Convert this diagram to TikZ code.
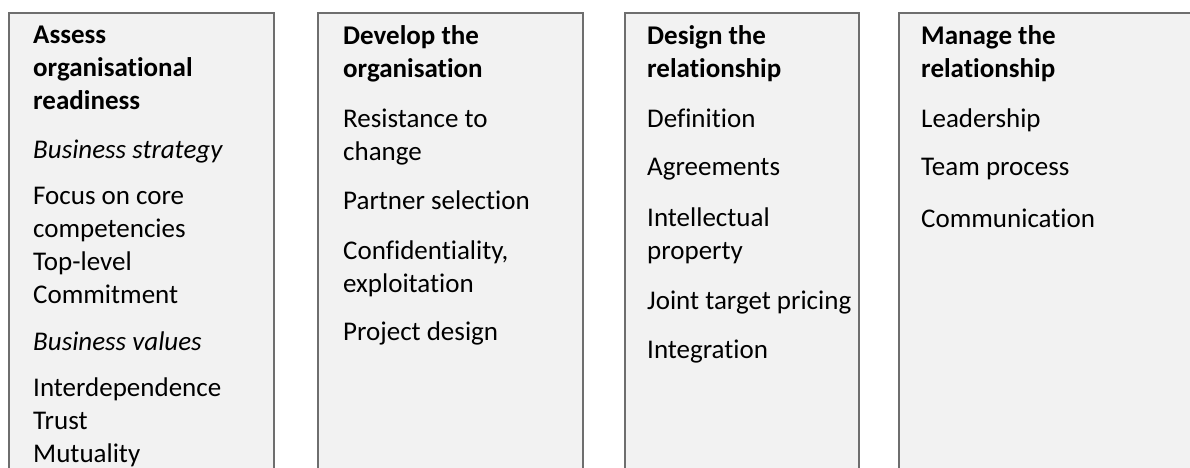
\documentclass[tikz,border=0pt]{standalone}
\usepackage{fontspec}
\setmainfont{Carlito}[Ligatures={NoCommon}]
\definecolor{boxfill}{HTML}{F2F2F2}
\definecolor{boxline}{HTML}{6E6E6E}
\tikzset{
  stage/.style={draw=boxline, line width=1.6pt, fill=boxfill},
  item/.style={anchor=base west, inner sep=0pt, align=left,
    font=\fontsize{27}{33}\selectfont},
  head/.style={item, font=\fontsize{27}{33}\selectfont\bfseries},
  topic/.style={item, font=\fontsize{27}{33}\selectfont\itshape}
}
\begin{document}
\begin{tikzpicture}[x=1pt, y=-1pt]
  \useasboundingbox (0,0) rectangle (1190,467);
  \clip (0,0) rectangle (1190,467);
  % the four columns, open at the bottom
  \draw[stage] (9,13) rectangle (274,490);
  \draw[stage] (318,13) rectangle (583,490);
  \draw[stage] (625,13) rectangle (859,490);
  \draw[stage] (899,13) rectangle (1210,490);
  % assess (node placed at the baseline of its last line)
  \node[head] (assess) at (33,109) {Assess\\organisational\\readiness};
  \node[topic] (strategy) at (33,158) {Business strategy};
  \node[item] (core) at (33,303) {Focus on core\\competencies\\Top-level\\Commitment};
  \node[topic] (values) at (33,350) {Business values};
  \node[item] (inter) at (33,462) {Interdependence\\Trust\\Mutuality};
  % develop
  \node[head] (develop) at (343,77) {Develop the\\organisation};
  \node[item] (resist) at (343,160) {Resistance to\\change};
  \node[item] (partner) at (343,209) {Partner selection};
  \node[item] (confid) at (343,292) {Confidentiality,\\exploitation};
  \node[item] (project) at (343,340) {Project design};
  % design
  \node[head] (design) at (647,77) {Design the\\relationship};
  \node[item] (defin) at (647,127) {Definition};
  \node[item] (agree) at (647,175) {Agreements};
  \node[item] (intell) at (647,259) {Intellectual\\property};
  \node[item] (joint) at (647,309) {Joint target pricing};
  \node[item] (integ) at (647,358) {Integration};
  % manage
  \node[head] (manage) at (921,77) {Manage the\\relationship};
  \node[item] (leader) at (921,127) {Leadership};
  \node[item] (team) at (921,175) {Team process};
  \node[item] (commun) at (921,227) {Communication};
\end{tikzpicture}
\end{document}
